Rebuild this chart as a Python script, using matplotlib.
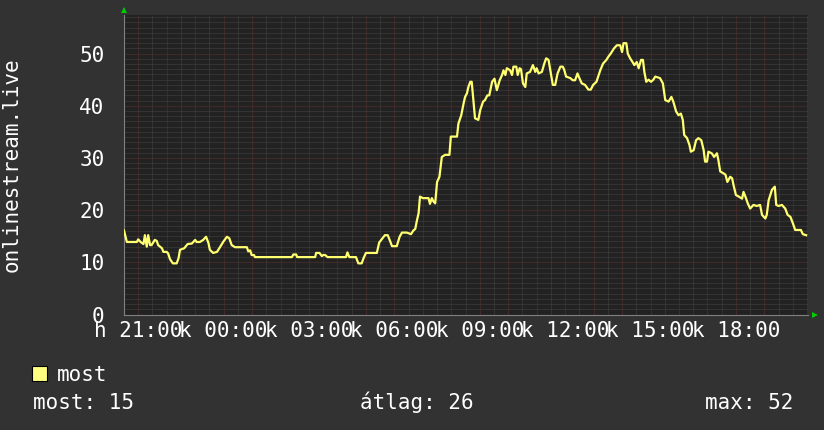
import matplotlib
matplotlib.use("Agg")
from matplotlib import pyplot as plt

# minutes since window start (20:30) and viewer counts
minutes = [
    0, 6, 27, 30, 35, 41, 44, 48, 51, 55, 58, 65, 69, 72, 80, 83, 90, 93, 97, 103,
    111, 115, 118, 127, 134, 143, 150, 153, 160, 167, 173, 178, 181, 188, 196, 203,
    209, 217, 222, 227, 234, 259, 262, 266, 269, 274, 276, 354, 357, 363, 365, 403,
    405, 412, 417, 420, 424, 429, 468, 471, 475, 489, 494, 501, 505, 510, 533, 538,
    550, 556, 560, 565, 575, 581, 586, 596, 605, 610, 614, 617, 621, 624, 630, 642,
    645, 649, 652, 656, 660, 665, 670, 677, 686, 689, 702, 705, 711, 716, 719, 723,
    726, 730, 733, 737, 740, 747, 751, 757, 761, 766, 770, 776, 781, 786, 792, 797,
    800, 804, 807, 814, 818, 821, 827, 830, 834, 837, 841, 846, 849, 856, 862, 867,
    870, 874, 881, 886, 890, 895, 900, 904, 909, 914, 920, 925, 928, 932, 941, 946,
    951, 956, 960, 965, 972, 979, 984, 989, 996, 1004, 1010, 1017, 1021, 1026, 1033,
    1039, 1046, 1050, 1053, 1059, 1062, 1067, 1072, 1076, 1081, 1085, 1090, 1094,
    1097, 1101, 1106, 1111, 1116, 1120, 1130, 1136, 1141, 1148, 1154, 1158, 1164,
    1169, 1174, 1178, 1181, 1187, 1192, 1195, 1201, 1206, 1211, 1217, 1222, 1225,
    1229, 1232, 1239, 1244, 1250, 1253, 1257, 1263, 1268, 1272, 1278, 1282, 1285,
    1290, 1296, 1303, 1306, 1310, 1315, 1320, 1327, 1334, 1341, 1345, 1352, 1355,
    1359, 1366, 1372, 1375, 1380, 1387, 1394, 1399, 1405, 1410, 1415, 1427, 1431,
    1438,
]
viewers = [
    16.1, 13.9, 13.9, 14.4, 13.9, 13.5, 15.2, 13.0, 15.2, 13.3, 13.3, 14.3, 14.1,
    13.3, 12.7, 12.0, 12.0, 11.7, 10.6, 9.8, 9.8, 10.8, 12.4, 12.7, 13.5, 13.6,
    14.3, 13.9, 13.9, 14.3, 14.9, 13.7, 12.4, 11.8, 12.0, 13.0, 13.9, 14.9, 14.6,
    13.3, 12.9, 12.9, 12.1, 12.3, 11.4, 11.4, 11.0, 11.0, 11.5, 11.5, 11.0, 11.0,
    11.8, 11.8, 11.2, 11.4, 11.4, 11.0, 11.0, 11.9, 11.0, 11.0, 9.8, 9.8, 10.8,
    11.8, 11.8, 13.8, 15.2, 15.2, 14.3, 13.1, 13.1, 14.9, 15.7, 15.7, 15.4, 16.1,
    16.4, 17.8, 19.4, 22.6, 22.3, 22.3, 21.2, 22.3, 21.7, 21.3, 25.4, 26.4, 30.2,
    30.6, 30.6, 34.1, 34.1, 36.6, 38.2, 40.5, 41.7, 42.4, 43.6, 44.6, 44.6, 40.5,
    37.6, 37.3, 39.2, 40.8, 41.1, 42.0, 42.0, 44.6, 45.2, 43.0, 44.9, 45.9, 46.8,
    45.9, 47.2, 46.8, 45.9, 47.5, 47.5, 45.9, 47.2, 47.0, 44.3, 43.6, 46.2, 46.5,
    47.8, 46.5, 47.2, 46.2, 46.5, 48.1, 49.1, 48.8, 46.2, 44.0, 44.0, 46.2, 47.5,
    47.5, 46.9, 45.6, 45.3, 44.9, 44.9, 46.2, 45.3, 44.3, 44.0, 43.1, 43.1, 44.0,
    44.6, 46.8, 48.1, 48.8, 49.4, 50.0, 51.0, 51.6, 51.6, 50.3, 52.0, 52.0, 50.0,
    49.1, 48.4, 47.8, 48.4, 47.2, 48.8, 48.8, 46.5, 44.6, 45.0, 44.6, 45.0, 45.6,
    45.3, 44.3, 41.1, 40.8, 41.7, 40.8, 38.9, 38.2, 38.5, 37.3, 34.4, 33.8, 32.5,
    31.2, 31.5, 33.4, 33.8, 33.4, 31.5, 29.3, 29.3, 31.2, 30.9, 30.2, 30.9, 29.6,
    27.4, 27.1, 26.8, 25.4, 26.4, 26.1, 24.8, 22.9, 22.6, 22.2, 23.5, 22.6, 21.3,
    20.3, 21.0, 20.8, 21.0, 19.1, 18.4, 19.1, 21.9, 23.9, 24.5, 21.0, 20.8, 21.0,
    20.3, 19.1, 18.7, 17.5, 16.2, 16.2, 15.4, 15.2,
]

tick_minutes = [30, 210, 390, 570, 750, 930, 1110, 1290]
tick_labels = ["h 21:00", "k 00:00", "k 03:00", "k 06:00", "k 09:00",
               "k 12:00", "k 15:00", "k 18:00"]
y_ticks = [0, 10, 20, 30, 40, 50]

series_name = "most"
stat_names = ["most", "átlag", "max"]
stat_values = [15, 26, 52]

BACK = "#323232"
CANVAS = "#222222"
MINOR = "#454545"
MAJOR = "#5e3030"
LINE = "#ffff70"
FONT = "DejaVu Sans Mono"
FS = 15


def draw_grid(ax, x_end, y_end):
    dots = (0, (1, 1))
    for m in range(0, x_end + 1, 30):
        col = MAJOR if (m - 30) % 60 == 0 else MINOR
        ax.axvline(m, color=col, lw=0.72, ls=dots, zorder=1)
    for v in range(1, y_end + 1):
        col = MAJOR if v % 10 == 0 else MINOR
        ax.axhline(v, color=col, lw=0.72, ls=dots, zorder=1)


def main():
    plt.rcParams["font.family"] = [FONT, "DejaVu Sans"]
    fig = plt.figure(figsize=(8.24, 4.30), dpi=100, facecolor=BACK)
    ax = fig.add_axes([0.1505, 0.2686, 0.8301, 0.6965])
    ax.set_facecolor(CANVAS)

    x_end = 1442
    y_top = 57.4
    ax.set_xlim(0, x_end)
    ax.set_ylim(0, y_top)
    draw_grid(ax, x_end, 57)

    ax.plot(minutes, viewers, color=LINE, lw=1.6, zorder=3)

    ax.set_xticks(tick_minutes)
    ax.set_xticklabels(tick_labels)
    ax.set_yticks(y_ticks)
    ax.tick_params(axis="both", colors="white", labelsize=FS, length=0)
    ax.tick_params(axis="x", pad=5)
    ax.tick_params(axis="y", pad=14)
    for s in ax.spines.values():
        s.set_visible(False)
    for side in ("bottom", "left"):
        ax.spines[side].set_visible(True)
        ax.spines[side].set_color("#808080")
        ax.spines[side].set_linewidth(0.8)

    # axis arrows
    ax.plot([0], [1.018], marker="^", color="#00cc00", ms=5, mew=0,
            transform=ax.transAxes, clip_on=False)
    ax.plot([1.0105], [0], marker=">", color="#00cc00", ms=5, mew=0,
            transform=ax.transAxes, clip_on=False)

    fig.text(12 / 824, 1 - 165 / 430, "onlinestream.live", color="white",
             fontsize=FS, rotation=90, ha="center", va="center")

    # legend box
    fig.patches.append(plt.Rectangle((32 / 824, 1 - 381 / 430), 15 / 824, 15 / 430,
                                     transform=fig.transFigure, facecolor="#ffff80",
                                     edgecolor="black", lw=0.8))
    fig.text(57 / 824, 1 - 381 / 430, series_name, color="white", fontsize=FS,
             va="baseline", ha="left")

    labels = ["%s: %d" % (n, v) for n, v in zip(stat_names, stat_values)]
    fig.text(33 / 824, 1 - 409 / 430, labels[0], color="white", fontsize=FS,
             va="baseline", ha="left")
    fig.text(360 / 824, 1 - 409 / 430, labels[1], color="white", fontsize=FS,
             va="baseline", ha="left")
    fig.text(793 / 824, 1 - 409 / 430, labels[2], color="white", fontsize=FS,
             va="baseline", ha="right")

    fig.savefig("out.png", dpi=100, facecolor=BACK)


if __name__ == "__main__":
    main()
